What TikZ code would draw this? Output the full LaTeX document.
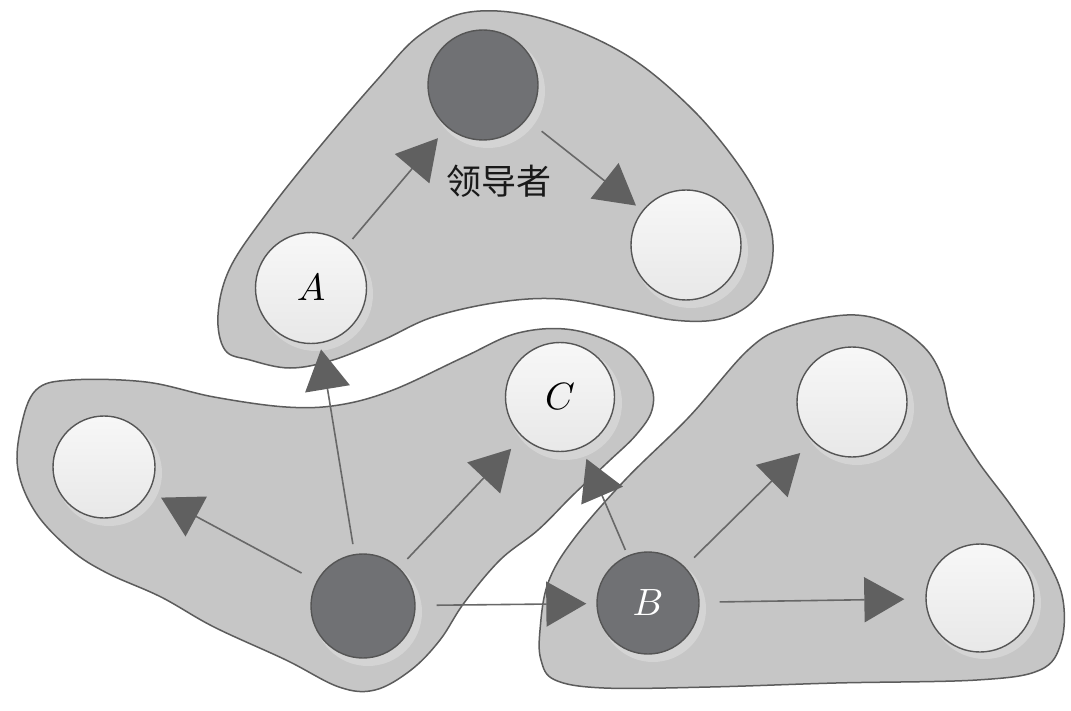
\documentclass[tikz,border=0pt]{standalone}
\usepackage{fontspec}
\newfontfamily\cjk{Noto Sans CJK SC}
\usetikzlibrary{arrows.meta}
\definecolor{blobfill}{RGB}{198,198,198}
\definecolor{blobline}{RGB}{92,92,92}
\definecolor{circline}{RGB}{85,85,85}
\definecolor{darkfill}{RGB}{112,113,116}
\definecolor{halocol}{RGB}{212,212,212}
\definecolor{arrline}{RGB}{104,104,104}
\definecolor{arrhead}{RGB}{96,96,96}
\newcommand{\biglbl}[1]{\scalebox{3.8}{$#1$}}
\tikzset{
  blob/.style={fill=blobfill, draw=blobline, line width=1.5pt},
  wnode/.style={circle, inner sep=0pt, draw=circline, line width=1.4pt, top color=white!97!black, bottom color=white!91!black},
  dnode/.style={circle, inner sep=0pt, draw=circline, line width=1.4pt, fill=darkfill},
  link/.style={draw=arrline, line width=1.6pt, -{Triangle[length=40pt,width=45pt,fill=arrhead,color=arrhead]}},
  halo/.style={fill=halocol}
}
\begin{document}
\begin{tikzpicture}[x=1pt,y=-1pt]
\useasboundingbox (0,0) rectangle (1071,711);
\fill[white] (0,0) rectangle (1071,711);
% blobs
\draw[blob] plot[smooth cycle, tension=0.6] coordinates {
 (225,350) (218,315) (230,268) (267,213) (317,150) (377,80) (420,35) (470,12)
 (540,18) (623,53) (690,107) (740,167) (767,217) (773,252) (765,285) (745,308)
 (715,320) (673,320) (623,310) (560,299) (500,302) (433,317) (383,340) (333,360)
 (290,368) (250,360)};
\draw[blob] plot[smooth cycle, tension=0.6] coordinates {
 (36,390) (71,380) (146,382) (214,397) (286,407) (339,405) (393,390) (464,357)
 (518,333) (573,330) (625,350) (650,383) (652,410) (636,435) (608,462) (573,495)
 (538,530) (500,560) (464,603) (440,640) (411,670) (375,690) (339,687) (286,660)
 (214,627) (161,597) (107,573) (71,550) (36,513) (18,470) (21,427)};
\draw[blob] plot[smooth cycle, tension=0.6] coordinates {
 (541,660) (540,630) (548,583) (573,540) (625,480) (689,417) (748,350) (787,327)
 (847,315) (889,323) (924,347) (942,377) (952,417) (977,460) (1012,507) (1047,560)
 (1063,600) (1061,643) (1040,670) (977,680) (836,683) (710,687) (604,688) (555,680)};
% halos
\foreach \px/\py/\r in {483/85/57, 311/288/57, 686/245/57, 560/397/57,
                   104/467/53, 363/606/54, 648/603/53, 852/402/57, 980/597/56}
  \fill[halo] (\px+5,\py+6) circle[radius=\r pt];
% nodes
\node[dnode, minimum size=110pt] (lead) at (483,85) {};
\node[wnode, minimum size=111pt] (A) at (311,288) {\biglbl{A}};
\node[wnode, minimum size=110pt] (tr) at (686,245) {};
\node[wnode, minimum size=109pt] (C) at (560,397) {\biglbl{C}};
\node[wnode, minimum size=102pt] (lw) at (104,467) {};
\node[dnode, minimum size=104pt] (dk) at (363,606) {};
\node[dnode, minimum size=102pt, text=white] (B) at (648,603) {\biglbl{B}};
\node[wnode, minimum size=110pt] (rt) at (852,402) {};
\node[wnode, minimum size=108pt] (br) at (980,598) {};
% label
\node[font=\cjk\fontsize{35}{40}\selectfont, text=black!90] (leadlbl) at (499,181) {领导者};
% arrows
\draw[link, shorten <=8pt, shorten >=14pt] (A) -- (lead);
\draw[link, shorten <=19pt, shorten >=8pt] (lead) -- (tr);
\draw[link, shorten <=17pt, shorten >=13pt] (dk) -- (lw);
\draw[link, shorten <=12pt, shorten >=16pt] (dk) -- (C);
\draw[link, shorten <=21pt, shorten >=10pt] (dk) -- (B);
\draw[link, shorten <=10pt, shorten >=6pt] (dk) -- (A);
\draw[link, shorten <=6pt, shorten >=12pt] (B) -- (C);
\draw[link, shorten <=13pt, shorten >=17pt] (B) -- (rt);
\draw[link, shorten <=20pt, shorten >=21pt] (B) -- (br);
\end{tikzpicture}
\end{document}
